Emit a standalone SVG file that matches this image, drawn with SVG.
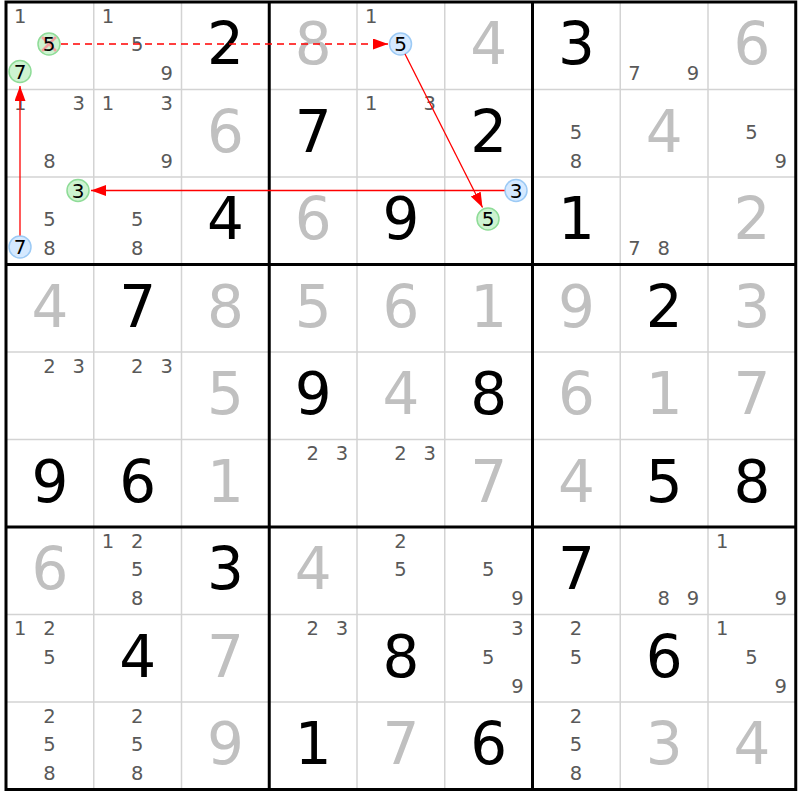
<svg xmlns="http://www.w3.org/2000/svg" width="800" height="800" viewBox="0 0 800 800">
<style>
text{font-family:"DejaVu Sans","Liberation Sans",sans-serif;text-anchor:middle}
.g{font-size:58px;fill:#000}
.s{font-size:58px;fill:#c0c0c0}
.c{font-size:19.5px;fill:#595959}
.h{font-size:20px;fill:#000}
.thin{stroke:#d3d3d3;stroke-width:1.5}
.thick{stroke:#000;stroke-width:3}
.cg{fill:#cdf3d0;stroke:#8fdc98;stroke-width:1.5}
.cb{fill:#d5e9ff;stroke:#9ccaf5;stroke-width:1.5}
.x{stroke:#f2a0a0;stroke-width:2.5}
.ar{stroke:#ff0000;stroke-width:1.3;fill:none}
</style>
<defs>
<marker id="ah" markerUnits="userSpaceOnUse" markerWidth="16" markerHeight="12" refX="15" refY="5.5" orient="auto"><path d="M0,0 L15,5.5 L0,11 z" fill="#ff0000"/></marker>
</defs>
<rect width="800" height="800" fill="#fff"/>
<g id="grid">
<g class="thin">
<line x1="93.75" y1="2" x2="93.75" y2="789.5"/><line x1="181.5" y1="2" x2="181.5" y2="789.5"/>
<line x1="357" y1="2" x2="357" y2="789.5"/><line x1="444.75" y1="2" x2="444.75" y2="789.5"/>
<line x1="620.25" y1="2" x2="620.25" y2="789.5"/><line x1="708" y1="2" x2="708" y2="789.5"/>
<line x1="6" y1="89.5" x2="795.75" y2="89.5"/><line x1="6" y1="177" x2="795.75" y2="177"/>
<line x1="6" y1="352" x2="795.75" y2="352"/><line x1="6" y1="439.5" x2="795.75" y2="439.5"/>
<line x1="6" y1="614.5" x2="795.75" y2="614.5"/><line x1="6" y1="702" x2="795.75" y2="702"/>
</g>
<g class="thick">
<line x1="269.25" y1="2" x2="269.25" y2="789.5"/><line x1="532.5" y1="2" x2="532.5" y2="789.5"/>
<line x1="6" y1="264.5" x2="795.75" y2="264.5"/><line x1="6" y1="527" x2="795.75" y2="527"/>
<rect x="6" y="2" width="789.75" height="787.5" fill="none"/>
</g>
</g>
<!-- row 1 -->
<g id="r1c1"><text class="c" x="20.2" y="22.5">1</text>
<circle class="cg" cx="49" cy="44" r="11"/><line class="x" x1="42" y1="37" x2="56" y2="51"/><line class="x" x1="56" y1="37" x2="42" y2="51"/><text class="h" x="49" y="51">5</text>
<circle class="cg" cx="20" cy="71.5" r="11"/><text class="h" x="20" y="78.5">7</text></g>
<g id="r1c2"><text class="c" x="108" y="22.5">1</text><text class="c" x="137.3" y="51.3">5</text><text class="c" x="166.6" y="80.3">9</text></g>
<g id="r1c3"><text class="g" x="225.4" y="64">2</text></g>
<g id="r1c4"><text class="s" x="313.2" y="64">8</text></g>
<g id="r1c5"><text class="c" x="371.2" y="22.5">1</text><circle class="cb" cx="400.5" cy="44" r="11"/><text class="h" x="400.5" y="51">5</text></g>
<g id="r1c6"><text class="s" x="488.6" y="64">4</text></g>
<g id="r1c7"><text class="g" x="576.4" y="64">3</text></g>
<g id="r1c8"><text class="c" x="634.5" y="80.3">7</text><text class="c" x="693" y="80.3">9</text></g>
<g id="r1c9"><text class="s" x="751.9" y="64">6</text></g>
<!-- row 2 -->
<g id="r2c1"><text class="c" x="20.2" y="110">1</text><text class="c" x="78.8" y="110">3</text><text class="c" x="49.5" y="167.8">8</text></g>
<g id="r2c2"><text class="c" x="108" y="110">1</text><text class="c" x="166.6" y="110">3</text><text class="c" x="166.6" y="167.8">9</text></g>
<g id="r2c3"><text class="s" x="225.4" y="151.5">6</text></g>
<g id="r2c4"><text class="g" x="313.2" y="151.5">7</text></g>
<g id="r2c5"><text class="c" x="371.2" y="110">1</text><text class="c" x="429.8" y="110">3</text></g>
<g id="r2c6"><text class="g" x="488.6" y="151.5">2</text></g>
<g id="r2c7"><text class="c" x="576" y="138.8">5</text><text class="c" x="576" y="167.8">8</text></g>
<g id="r2c8"><text class="s" x="664.2" y="151.5">4</text></g>
<g id="r2c9"><text class="c" x="751.5" y="138.8">5</text><text class="c" x="780.8" y="167.8">9</text></g>
<!-- row 3 -->
<g id="r3c1"><circle class="cg" cx="78" cy="190.5" r="11"/><text class="h" x="78" y="197.5">3</text>
<text class="c" x="49.5" y="226.3">5</text>
<circle class="cb" cx="20" cy="247" r="11"/><text class="h" x="20" y="254">7</text>
<text class="c" x="49.5" y="255.3">8</text></g>
<g id="r3c2"><text class="c" x="137.3" y="226.3">5</text><text class="c" x="137.3" y="255.3">8</text></g>
<g id="r3c3"><text class="g" x="225.4" y="239">4</text></g>
<g id="r3c4"><text class="s" x="313.2" y="239">6</text></g>
<g id="r3c5"><text class="g" x="400.9" y="239">9</text></g>
<g id="r3c6"><circle class="cb" cx="516" cy="190.5" r="11"/><text class="h" x="516" y="197.5">3</text>
<circle class="cg" cx="488" cy="219" r="11"/><text class="h" x="488" y="226">5</text></g>
<g id="r3c7"><text class="g" x="576.4" y="239">1</text></g>
<g id="r3c8"><text class="c" x="634.5" y="255.3">7</text><text class="c" x="663.8" y="255.3">8</text></g>
<g id="r3c9"><text class="s" x="751.9" y="239">2</text></g>
<!-- row 4 -->
<g id="r4c1"><text class="s" x="50" y="326.5">4</text></g>
<g id="r4c2"><text class="g" x="137.6" y="326.5">7</text></g>
<g id="r4c3"><text class="s" x="225.4" y="326.5">8</text></g>
<g id="r4c4"><text class="s" x="313.2" y="326.5">5</text></g>
<g id="r4c5"><text class="s" x="400.9" y="326.5">6</text></g>
<g id="r4c6"><text class="s" x="488.6" y="326.5">1</text></g>
<g id="r4c7"><text class="s" x="576.4" y="326.5">9</text></g>
<g id="r4c8"><text class="g" x="664.2" y="326.5">2</text></g>
<g id="r4c9"><text class="s" x="751.9" y="326.5">3</text></g>
<!-- row 5 -->
<g id="r5c1"><text class="c" x="49.5" y="372.5">2</text><text class="c" x="78.8" y="372.5">3</text></g>
<g id="r5c2"><text class="c" x="137.3" y="372.5">2</text><text class="c" x="166.6" y="372.5">3</text></g>
<g id="r5c3"><text class="s" x="225.4" y="414">5</text></g>
<g id="r5c4"><text class="g" x="313.2" y="414">9</text></g>
<g id="r5c5"><text class="s" x="400.9" y="414">4</text></g>
<g id="r5c6"><text class="g" x="488.6" y="414">8</text></g>
<g id="r5c7"><text class="s" x="576.4" y="414">6</text></g>
<g id="r5c8"><text class="s" x="664.2" y="414">1</text></g>
<g id="r5c9"><text class="s" x="751.9" y="414">7</text></g>
<!-- row 6 -->
<g id="r6c1"><text class="g" x="50" y="501.5">9</text></g>
<g id="r6c2"><text class="g" x="137.6" y="501.5">6</text></g>
<g id="r6c3"><text class="s" x="225.4" y="501.5">1</text></g>
<g id="r6c4"><text class="c" x="312.8" y="460">2</text><text class="c" x="342" y="460">3</text></g>
<g id="r6c5"><text class="c" x="400.5" y="460">2</text><text class="c" x="429.8" y="460">3</text></g>
<g id="r6c6"><text class="s" x="488.6" y="501.5">7</text></g>
<g id="r6c7"><text class="s" x="576.4" y="501.5">4</text></g>
<g id="r6c8"><text class="g" x="664.2" y="501.5">5</text></g>
<g id="r6c9"><text class="g" x="751.9" y="501.5">8</text></g>
<!-- row 7 -->
<g id="r7c1"><text class="s" x="50" y="589">6</text></g>
<g id="r7c2"><text class="c" x="108" y="547.5">1</text><text class="c" x="137.3" y="547.5">2</text><text class="c" x="137.3" y="576.3">5</text><text class="c" x="137.3" y="605.3">8</text></g>
<g id="r7c3"><text class="g" x="225.4" y="589">3</text></g>
<g id="r7c4"><text class="s" x="313.2" y="589">4</text></g>
<g id="r7c5"><text class="c" x="400.5" y="547.5">2</text><text class="c" x="400.5" y="576.3">5</text></g>
<g id="r7c6"><text class="c" x="488.3" y="576.3">5</text><text class="c" x="517.5" y="605.3">9</text></g>
<g id="r7c7"><text class="g" x="576.4" y="589">7</text></g>
<g id="r7c8"><text class="c" x="663.8" y="605.3">8</text><text class="c" x="693" y="605.3">9</text></g>
<g id="r7c9"><text class="c" x="722.2" y="547.5">1</text><text class="c" x="780.8" y="605.3">9</text></g>
<!-- row 8 -->
<g id="r8c1"><text class="c" x="20.2" y="635">1</text><text class="c" x="49.5" y="635">2</text><text class="c" x="49.5" y="663.8">5</text></g>
<g id="r8c2"><text class="g" x="137.6" y="676.5">4</text></g>
<g id="r8c3"><text class="s" x="225.4" y="676.5">7</text></g>
<g id="r8c4"><text class="c" x="312.8" y="635">2</text><text class="c" x="342" y="635">3</text></g>
<g id="r8c5"><text class="g" x="400.9" y="676.5">8</text></g>
<g id="r8c6"><text class="c" x="517.5" y="635">3</text><text class="c" x="488.3" y="663.8">5</text><text class="c" x="517.5" y="692.8">9</text></g>
<g id="r8c7"><text class="c" x="576" y="635">2</text><text class="c" x="576" y="663.8">5</text></g>
<g id="r8c8"><text class="g" x="664.2" y="676.5">6</text></g>
<g id="r8c9"><text class="c" x="722.2" y="635">1</text><text class="c" x="751.5" y="663.8">5</text><text class="c" x="780.8" y="692.8">9</text></g>
<!-- row 9 -->
<g id="r9c1"><text class="c" x="49.5" y="722.5">2</text><text class="c" x="49.5" y="751.3">5</text><text class="c" x="49.5" y="780.3">8</text></g>
<g id="r9c2"><text class="c" x="137.3" y="722.5">2</text><text class="c" x="137.3" y="751.3">5</text><text class="c" x="137.3" y="780.3">8</text></g>
<g id="r9c3"><text class="s" x="225.4" y="764">9</text></g>
<g id="r9c4"><text class="g" x="313.2" y="764">1</text></g>
<g id="r9c5"><text class="s" x="400.9" y="764">7</text></g>
<g id="r9c6"><text class="g" x="488.6" y="764">6</text></g>
<g id="r9c7"><text class="c" x="576" y="722.5">2</text><text class="c" x="576" y="751.3">5</text><text class="c" x="576" y="780.3">8</text></g>
<g id="r9c8"><text class="s" x="664.2" y="764">3</text></g>
<g id="r9c9"><text class="s" x="751.9" y="764">4</text></g>
<g id="connectors" class="ar">
<line x1="61" y1="44" x2="388" y2="44" stroke-dasharray="7,5" marker-end="url(#ah)"/>
<line x1="405" y1="54" x2="482.5" y2="207.5" marker-end="url(#ah)"/>
<line x1="504.5" y1="190.5" x2="91" y2="190.5" marker-end="url(#ah)"/>
<line x1="20" y1="235.5" x2="20" y2="86" marker-end="url(#ah)"/>
</g>
</svg>
